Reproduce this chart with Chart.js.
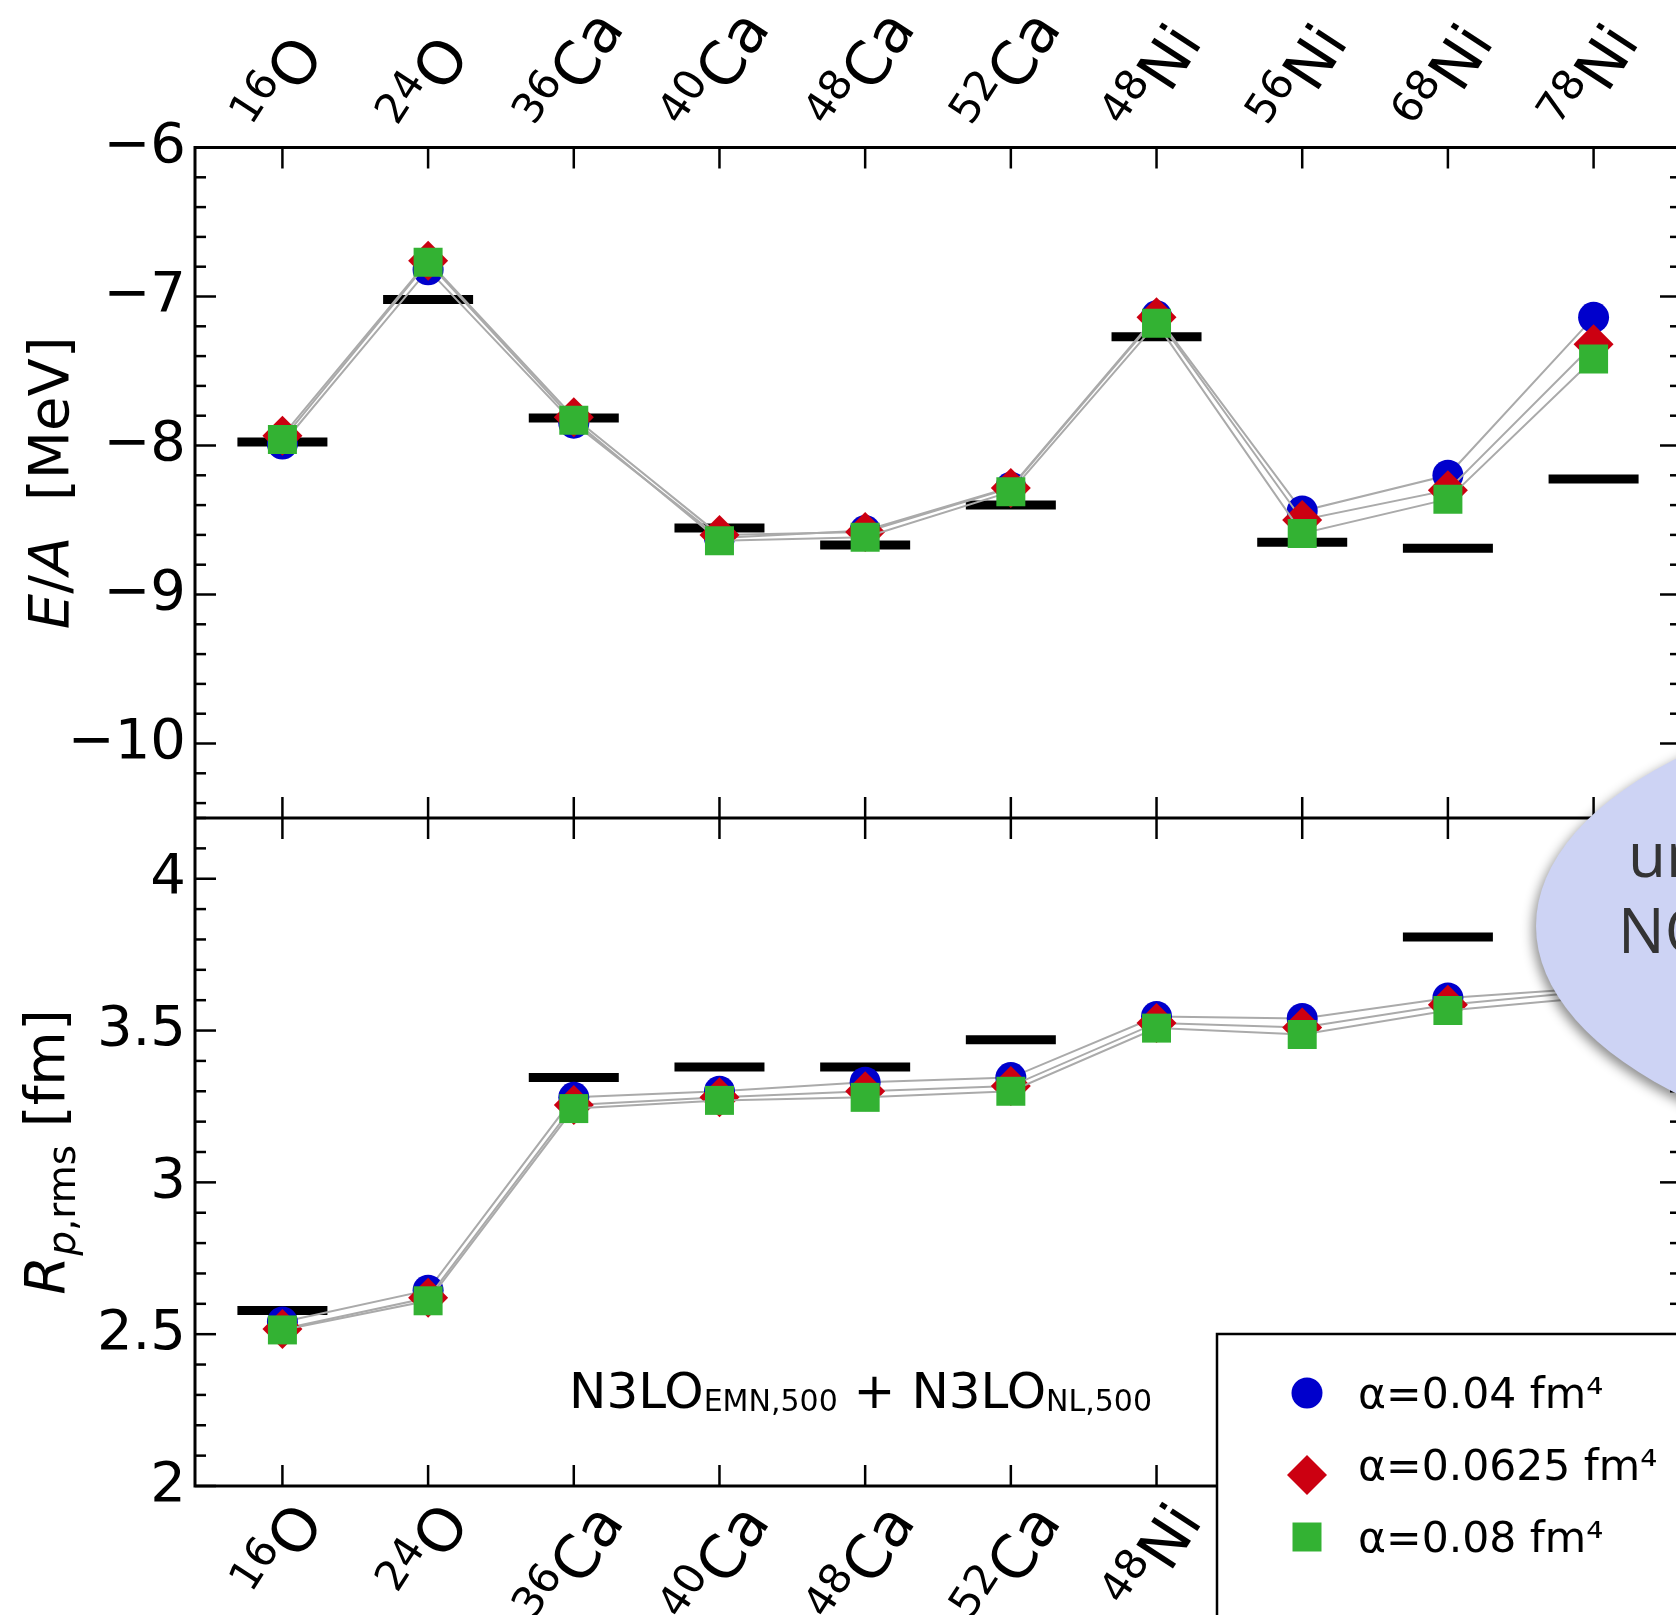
<!DOCTYPE html>
<html>
<head>
<meta charset="utf-8">
<script src="https://cdn.jsdelivr.net/npm/chart.js@4.4.1/dist/chart.umd.min.js"></script>
<style>
  html, body { margin: 0; padding: 0; background: #fff; overflow: hidden; }
  #wrap { position: relative; width: 1676px; height: 1615px; overflow: hidden; }
  #chart { position: absolute; left: 0; top: 0; }
</style>
</head>
<body>
<div id="wrap"><canvas id="chart" width="1800" height="1615"></canvas></div>
<script>
// nuclei along the x axis
const massNumbers = ["16", "24", "36", "40", "48", "52", "48", "56", "68", "78"];
const elements = ["O", "O", "Ca", "Ca", "Ca", "Ca", "Ni", "Ni", "Ni", "Ni"];

// E/A [MeV]
const energyExp = [-7.976, -7.02, -7.816, -8.553, -8.668, -8.40, -7.27, -8.65, -8.69, -8.225];
const energyA004 = [-7.99, -6.82, -7.85, -8.62, -8.57, -8.28, -7.13, -8.44, -8.20, -7.14];
const energyA0625 = [-7.935, -6.76, -7.81, -8.60, -8.58, -8.285, -7.14, -8.50, -8.30, -7.32];
const energyA008 = [-7.96, -6.77, -7.83, -8.64, -8.615, -8.31, -7.18, -8.59, -8.36, -7.42];

// R_p,rms [fm]
const radiusExp = [2.578, null, 3.345, 3.38, 3.38, 3.47, null, null, 3.808, null];
const radiusA004 = [2.54, 2.645, 3.28, 3.30, 3.33, 3.345, 3.546, 3.54, 3.607, 3.64];
const radiusA0625 = [2.517, 2.62, 3.255, 3.28, 3.30, 3.317, 3.525, 3.51, 3.585, 3.63];
const radiusA008 = [2.514, 2.61, 3.243, 3.27, 3.28, 3.30, 3.508, 3.487, 3.566, 3.61];

const seriesLabels = ["α=0.04 fm⁴", "α=0.0625 fm⁴", "α=0.08 fm⁴"];
const energyTicks = [-10, -9, -8, -7, -6];
const radiusTicks = [2, 2.5, 3, 3.5, 4];

const FONT = "DejaVu Sans";
const MAJOR = 21, MINOR = 11;
const LABEL_ANGLE = 57 * Math.PI / 180;
const colors = ["#0000cc", "#cc0011", "#33b233"];
const styles = ["circle", "rectRot", "rect"];
const radii = [15.5, 20, 20.5];

function toPoints(values) {
    return values.map((v, i) => ({ x: i, y: v }));
}

function expSet(values, axis) {
    return {
        data: toPoints(values),
        yAxisID: axis,
        showLine: false,
        pointStyle: "line",
        pointRadius: 45,
        pointHoverRadius: 45,
        pointBorderWidth: 9,
        pointHoverBorderWidth: 9,
        pointBorderColor: "#000",
        order: 10,
    };
}

function modelSet(k, values, axis, inLegend) {
    return {
        label: seriesLabels[k],
        data: toPoints(values),
        yAxisID: axis,
        showLine: true,
        borderColor: "#aaaaaa",
        borderWidth: 2,
        pointStyle: styles[k],
        pointRadius: radii[k],
        pointHoverRadius: radii[k],
        pointBackgroundColor: colors[k],
        pointBorderColor: colors[k],
        pointBorderWidth: 0,
        pointHoverBorderWidth: 0,
        order: 3 - k,
        inLegend: inLegend,
    };
}

function fmt(v) {
    return v < 0 ? "\u2212" + Math.abs(v) : String(v);
}

function yAxis(min, max, ticks, weight) {
    return {
        type: "linear",
        position: "left",
        stack: "panels",
        stackWeight: weight,
        min: min,
        max: max,
        afterBuildTicks: (s) => { s.ticks = ticks.map(v => ({ value: v })); },
        afterFit: (s) => { s.width = 195; },
        grid: { display: false, drawTicks: false, tickLength: 0 },
        border: { display: false },
        ticks: {
            padding: 9,
            color: "#000",
            font: { family: FONT, size: 56 },
            callback: (v) => fmt(v),
        },
    };
}

// draw a run of text pieces with different fonts along one baseline
function drawRich(ctx, parts, x, y, rotation, align) {
    let total = 0;
    parts.forEach(p => { ctx.font = p.font; p.w = ctx.measureText(p.text).width; total += p.w; });
    ctx.save();
    ctx.translate(x, y);
    ctx.rotate(rotation);
    ctx.textBaseline = "alphabetic";
    ctx.textAlign = "left";
    let cx = align === "center" ? -total / 2 : 0;
    parts.forEach(p => {
        ctx.font = p.font;
        ctx.fillStyle = p.color || "#000";
        ctx.fillText(p.text, cx, p.dy || 0);
        cx += p.w;
    });
    ctx.restore();
}

// rotated "mass number + symbol" label, ink box centred on the tick
function drawNucleus(ctx, i, px, edgeY, above) {
    const supSize = 42, symSize = 60, raise = 23;
    const supFont = supSize + "px " + FONT, symFont = symSize + "px " + FONT;
    ctx.font = supFont;
    const ws = ctx.measureText(massNumbers[i]).width;
    ctx.font = symFont;
    const wm = ctx.measureText(elements[i]).width;
    const c = Math.cos(LABEL_ANGLE), s = Math.sin(LABEL_ANGLE);
    const boxes = [
        [0, ws, raise, raise + 0.73 * supSize],
        [ws, ws + wm, 0, 0.73 * symSize],
    ];
    let minX = Infinity, maxX = -Infinity, minY = Infinity, maxY = -Infinity;
    boxes.forEach(([u0, u1, v0, v1]) => {
        [[u0, v0], [u1, v0], [u0, v1], [u1, v1]].forEach(([u, v]) => {
            const sx = u * c - v * s, sy = -u * s - v * c;
            minX = Math.min(minX, sx); maxX = Math.max(maxX, sx);
            minY = Math.min(minY, sy); maxY = Math.max(maxY, sy);
        });
    });
    const ox = px - 7 - (minX + maxX) / 2;
    const oy = above ? edgeY - 21 - maxY : edgeY + 12 - minY;
    drawRich(ctx, [
        { text: massNumbers[i], font: supFont, dy: -raise },
        { text: elements[i], font: symFont },
    ], ox, oy, -LABEL_ANGLE, "left");
}

const framePlugin = {
    id: "frame",
    afterDatasetsDraw(chart) {
        const ctx = chart.ctx;
        const xs = chart.scales.x, yE = chart.scales.yE, yR = chart.scales.yR;
        const left = chart.chartArea.left, right = chart.chartArea.right;
        const mid = yE.bottom;
        ctx.save();
        ctx.strokeStyle = "#000";
        ctx.lineCap = "butt";
        ctx.lineWidth = 2.5;
        const seg = (x1, y1, x2, y2) => { ctx.beginPath(); ctx.moveTo(x1, y1); ctx.lineTo(x2, y2); ctx.stroke(); };

        massNumbers.forEach((m, i) => {
            const px = xs.getPixelForValue(i);
            seg(px, yE.top, px, yE.top + MAJOR);
            seg(px, mid - MAJOR, px, mid + MAJOR);
            seg(px, yR.bottom, px, yR.bottom - MAJOR);
        });

        [[yE, energyTicks, 0.2], [yR, radiusTicks, 0.1]].forEach(([s, majors, step]) => {
            const k0 = Math.ceil(s.min / step - 1e-6), k1 = Math.floor(s.max / step + 1e-6);
            for (let k = k0; k <= k1; k++) {
                const v = k * step;
                const len = majors.some(m => Math.abs(m - v) < 1e-6) ? MAJOR : MINOR;
                const py = s.getPixelForValue(v);
                seg(left, py, left + len, py);
                seg(right, py, right - len, py);
            }
        });

        ctx.lineWidth = 3;
        ctx.strokeRect(left, yE.top, right - left, yR.bottom - yE.top);
        seg(left, mid, right, mid);
        ctx.restore();
    },
    afterDraw(chart) {
        const ctx = chart.ctx;
        const xs = chart.scales.x, yE = chart.scales.yE, yR = chart.scales.yR;

        // nucleus labels, top and bottom
        massNumbers.forEach((m, i) => {
            const px = xs.getPixelForValue(i);
            drawNucleus(ctx, i, px, yE.top, true);
            drawNucleus(ctx, i, px, yR.bottom, false);
        });

        // axis titles
        const reg = "56px " + FONT, ita = "italic 56px " + FONT;
        drawRich(ctx, [
            { text: "E", font: ita }, { text: "/", font: reg }, { text: "A", font: ita },
            { text: "  [MeV]", font: reg },
        ], 68, (yE.top + yE.bottom) / 2, -Math.PI / 2, "center");
        drawRich(ctx, [
            { text: "R", font: ita },
            { text: "p", font: "italic 39px " + FONT, dy: 11 },
            { text: ",rms", font: "39px " + FONT, dy: 11 },
            { text: " [fm]", font: reg },
        ], 64, (yR.top + yR.bottom) / 2, -Math.PI / 2, "center");

        // interaction note
        const big = "50px " + FONT, small = "30px " + FONT;
        drawRich(ctx, [
            { text: "N3LO", font: big }, { text: "EMN,500", font: small, dy: 3 },
            { text: " + N3LO", font: big }, { text: "NL,500", font: small, dy: 3 },
        ], 569, 1408, 0, "left");

        // speech bubble on the right
        ctx.save();
        ctx.shadowColor = "rgba(0,0,0,0.45)";
        ctx.shadowBlur = 12;
        ctx.shadowOffsetX = -3;
        ctx.shadowOffsetY = 5;
        ctx.fillStyle = "#cdd3f4";
        ctx.beginPath();
        ctx.ellipse(2056, 926, 520, 245, 0, 0, Math.PI * 2);
        ctx.fill();
        ctx.restore();
        drawRich(ctx, [{ text: "un", font: "62px 'Open Sans'", color: "#333" }], 1628, 877, 0, "left");
        drawRich(ctx, [{ text: "NO", font: "62px 'Open Sans'", color: "#333" }], 1618, 953, 0, "left");

        // legend
        ctx.save();
        ctx.fillStyle = "#fff";
        ctx.fillRect(1217, 1334, 700, 400);
        ctx.strokeStyle = "#000";
        ctx.lineWidth = 2.5;
        ctx.strokeRect(1217, 1334, 700, 400);
        const markerY = [1393, 1475, 1537], textY = [1408, 1480, 1552];
        chart.data.datasets.filter(d => d.inLegend).forEach((d, k) => {
            ctx.fillStyle = d.pointBackgroundColor;
            Chart.helpers.drawPoint(ctx, { pointStyle: d.pointStyle, radius: d.pointRadius, rotation: 0, borderWidth: 0 }, 1307, markerY[k]);
            ctx.fillStyle = "#000";
            ctx.font = "42.5px " + FONT;
            ctx.textBaseline = "alphabetic";
            ctx.textAlign = "left";
            ctx.fillText(d.label, 1358, textY[k]);
        });
        ctx.restore();
    },
};

new Chart(document.getElementById("chart"), {
    type: "scatter",
    data: {
        datasets: [
            expSet(energyExp, "yE"),
            modelSet(0, energyA004, "yE", true),
            modelSet(1, energyA0625, "yE", true),
            modelSet(2, energyA008, "yE", true),
            expSet(radiusExp, "yR"),
            modelSet(0, radiusA004, "yR", false),
            modelSet(1, radiusA0625, "yR", false),
            modelSet(2, radiusA008, "yR", false),
        ],
    },
    options: {
        responsive: false,
        animation: false,
        devicePixelRatio: 1,
        events: [],
        layout: { padding: { left: 0, top: 147.5, right: 119, bottom: 129 } },
        plugins: { legend: { display: false }, tooltip: { enabled: false } },
        scales: {
            x: { type: "linear", min: -0.6, max: 9.6, display: false },
            yR: yAxis(2, 4.2, radiusTicks, 668),
            yE: yAxis(-10.5, -6, energyTicks, 670.5),
        },
    },
    plugins: [framePlugin],
});
</script>
</body>
</html>
